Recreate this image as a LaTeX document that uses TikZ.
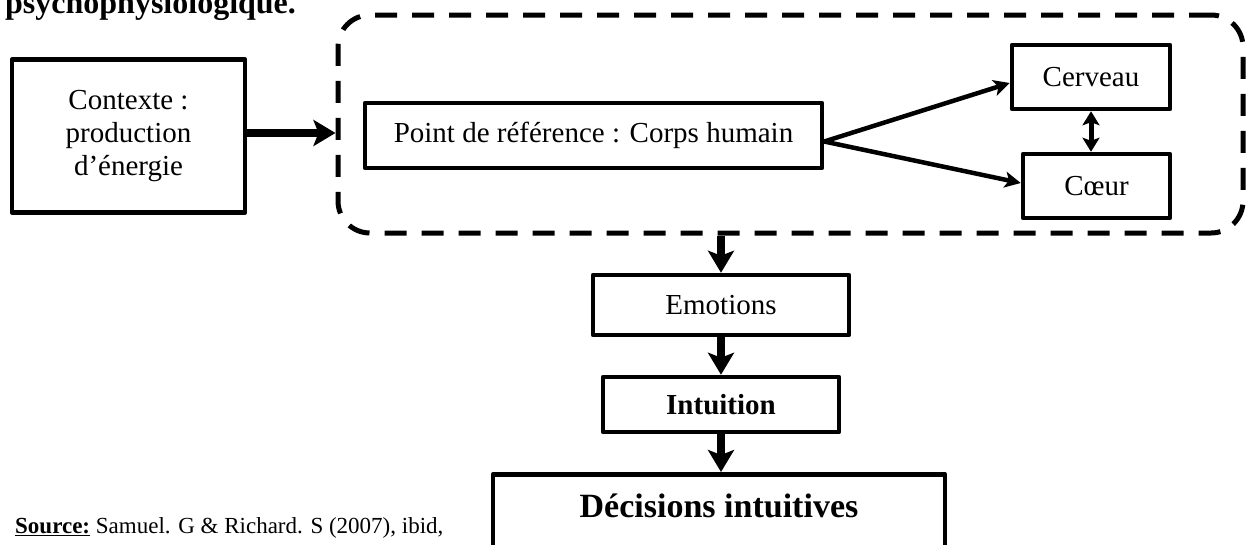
\documentclass[tikz,border=0pt]{standalone}
\usepackage{fontspec}
\setmainfont{Liberation Serif}
\usetikzlibrary{arrows.meta}
\begin{document}
\begin{tikzpicture}[x=1pt,y=-1pt,
  box/.style={draw, line width=4.5pt, line join=round, inner sep=0pt, align=center,
    font=\fontsize{29}{33}\selectfont},
  boldbox/.style={box, font=\bfseries\fontsize{29}{33}\selectfont},
  group/.style={draw, line width=5pt, dash pattern=on 22pt off 15pt,
    rounded corners=32pt, inner sep=0pt},
  thickarrow/.style={line width=8pt, -{Stealth[length=22pt, width=26pt, inset=5pt]}},
  thinarrow/.style={line width=4.5pt, -{Stealth[length=16pt, width=16pt, inset=4pt]}},
  dblarrow/.style={line width=5pt, {Stealth[length=14pt, width=17pt, inset=3pt]}-{Stealth[length=14pt, width=17pt, inset=3pt]}}
]
\useasboundingbox (0,0) rectangle (1247,544);

% heading (partly above the page)
\node[anchor=base west, inner sep=0pt, font=\bfseries\fontsize{32}{36}\selectfont]
  (title) at (5,13) {psychophysiologique.};

% context box
\node[box, minimum width=233pt, minimum height=153pt] (ctx) at (128.5,136)
  {Contexte :\\production\\d’énergie};

% dashed frame around the body
\node[group, minimum width=905pt, minimum height=218pt] (body) at (790.5,124) {};

% body nodes
\node[box, minimum width=457pt, minimum height=65pt] (pt) at (593.5,135.5)
  {Point de référence : Corps humain};
\node[box, minimum width=158pt, minimum height=64pt] (cer) at (1091,77) {Cerveau};
\node[box, minimum width=147pt, minimum height=64pt] (coe) at (1096.5,186) {Cœur};

% chain below
\node[box, minimum width=256pt, minimum height=60pt] (emo) at (721,305) {Emotions};
\node[boldbox, minimum width=236pt, minimum height=55pt] (int) at (721,404.5) {Intuition};
\node[box, anchor=north, minimum width=452pt, inner ysep=19pt, text height=24pt,
  text depth=40pt, font=\bfseries\fontsize{34}{38}\selectfont] (dec) at (719,472)
  {Décisions intuitives};

% source line
\node[anchor=base west, inner sep=0pt, font=\fontsize{23}{27}\selectfont]
  (src) at (15,533) {\textbf{\underline{Source:}} Samuel. G \& Richard. S (2007), ibid,};

% connectors
\draw[thickarrow] ([yshift=3pt]ctx.east) -- ([yshift=3pt]ctx.east -| body.west);
\draw[thinarrow] ([yshift=-6pt]pt.east) -- ([yshift=-6pt]cer.west);
\draw[thinarrow] ([yshift=-6pt]pt.east) -- ([yshift=3pt]coe.west);
\draw[dblarrow] (cer.south) -- (cer.south |- coe.north);
\draw[thickarrow] (body.south -| emo.north) -- (emo.north);
\draw[thickarrow] (emo.south) -- (int.north);
\draw[thickarrow] (int.south) -- (int.south |- dec.north);
\end{tikzpicture}
\end{document}
